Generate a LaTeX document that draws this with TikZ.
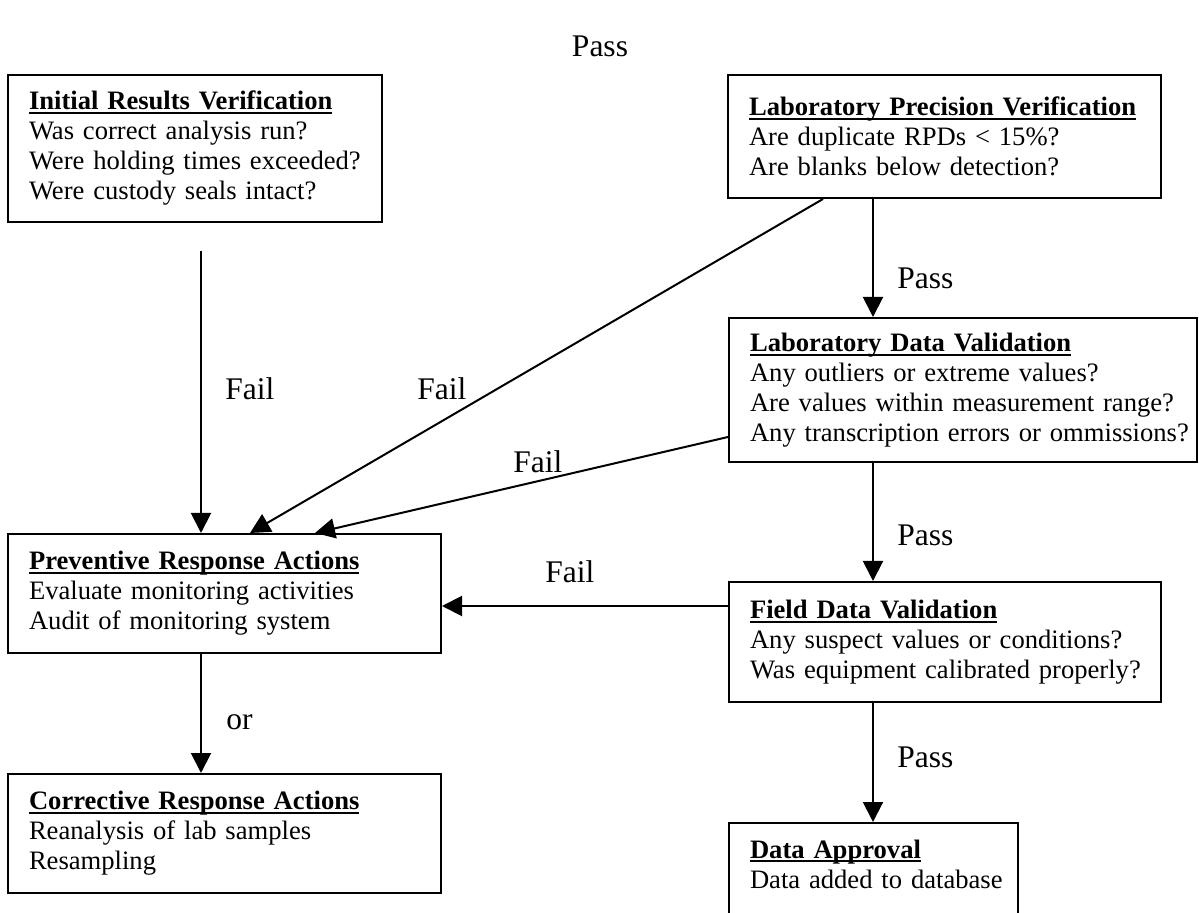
\documentclass[tikz,border=0pt]{standalone}
\usepackage{fontspec}
\setmainfont{Liberation Serif}
\usetikzlibrary{positioning}
\usetikzlibrary{arrows.meta}
\tikzset{
    every picture/.append style={
        >={Triangle[length=10pt,width=10pt]}
    }
}
\newcommand{\boxfont}{\fontsize{13.3pt}{15pt}\selectfont}
\newcommand{\lblfont}{\fontsize{15.75pt}{18pt}\selectfont}
% bold heading with a close underline
\newcommand{\hd}[1]{\mbox{\sbox0{\textbf{#1}}\rlap{\rule[-2.2pt]{\wd0}{1pt}}\usebox0}}
\newcommand{\bxline}[1]{\mbox{#1}}
\tikzset{
    box/.style={draw=black, line width=1pt, align=left, inner xsep=10.5pt, font=\boxfont},
    lbl/.style={font=\lblfont, inner sep=0pt, anchor=base west},
    link/.style={->, line width=1pt},
}

\begin{document}
\begin{tikzpicture}[x=0.5pt, y=-0.5pt]
		\useasboundingbox (0,0) rectangle (1199,913);
		\clip (0,0) rectangle (1199,913);
		\coordinate (lspine) at (201,0);
		\coordinate (rspine) at (873,0);

		\node[box, minimum width=187pt, minimum height=73.5pt, text width=166pt] (IRV) at (195,148.5)
			{\hd{Initial Results Verification}\\\bxline{Was correct analysis run?}\\\bxline{Were holding times exceeded?}\\\bxline{Were custody seals intact?}};
		\node[box, minimum width=216.5pt, minimum height=61.5pt, text width=195.5pt] (LPV) at (944.5,136.5)
			{\hd{Laboratory Precision Verification}\\\bxline{Are duplicate RPDs < 15\%?}\\\bxline{Are blanks below detection?}};
		\node[box, minimum width=234pt, minimum height=72pt, text width=213pt] (LDV) at (963,390)
			{\hd{Laboratory Data Validation}\\\bxline{Any outliers or extreme values?}\\\bxline{Are values within measurement range?}\\\bxline{Any transcription errors or ommissions?}};
		\node[box, minimum width=216.5pt, minimum height=59.5pt, text width=195.5pt] (PRA) at (224.5,593.5)
			{\hd{Preventive Response Actions}\\\bxline{Evaluate monitoring activities}\\\bxline{Audit of monitoring system}};
		\node[box, minimum width=216pt, minimum height=60pt, text width=195pt] (FDV) at (945,642)
			{\hd{Field Data Validation}\\\bxline{Any suspect values or conditions?}\\\bxline{Was equipment calibrated properly?}};
		\node[box, minimum width=216.5pt, minimum height=59.5pt, text width=195.5pt] (CRA) at (224.5,833.5)
			{\hd{Corrective Response Actions}\\\bxline{Reanalysis of lab samples}\\\bxline{Resampling}};
		\node[box, anchor=north west, text width=123.5pt, text height=9.5pt, text depth=100pt, inner ysep=8pt] (DA) at (728,822)
			{\hd{Data Approval}\\\bxline{Data added to database}};

		\node[lbl, anchor=base] (ptop) at (600,57) {Pass};
		\node[lbl] (f1) at (225,400) {Fail};
		\node[lbl] (f2) at (417,400) {Fail};
		\node[lbl] (f3) at (513,473) {Fail};
		\node[lbl] (f4) at (545,583) {Fail};
		\node[lbl] (p1) at (897,289) {Pass};
		\node[lbl] (p2) at (897,546) {Pass};
		\node[lbl] (p3) at (897,768) {Pass};
		\node[lbl] (or) at (226,730) {or};

		\draw[link, shorten <=14pt] (IRV.south -| lspine) -- (PRA.north -| lspine);
		\draw[link] ([xshift=-60.75pt]LPV.south) -- ([xshift=12.75pt]PRA.north);
		\draw[link] ([yshift=-23.5pt]LDV.west) -- ([xshift=45.25pt]PRA.north);
		\draw[link] ([yshift=18pt]FDV.west) -- ([yshift=18pt]FDV.west -| PRA.east);
		\draw[link] (PRA.south -| lspine) -- (CRA.north -| lspine);
		\draw[link] (LPV.south -| rspine) -- (LDV.north -| rspine);
		\draw[link] (LDV.south -| rspine) -- (FDV.north -| rspine);
		\draw[link] (FDV.south -| rspine) -- (DA.north -| rspine);
		\end{tikzpicture}
\end{document}
